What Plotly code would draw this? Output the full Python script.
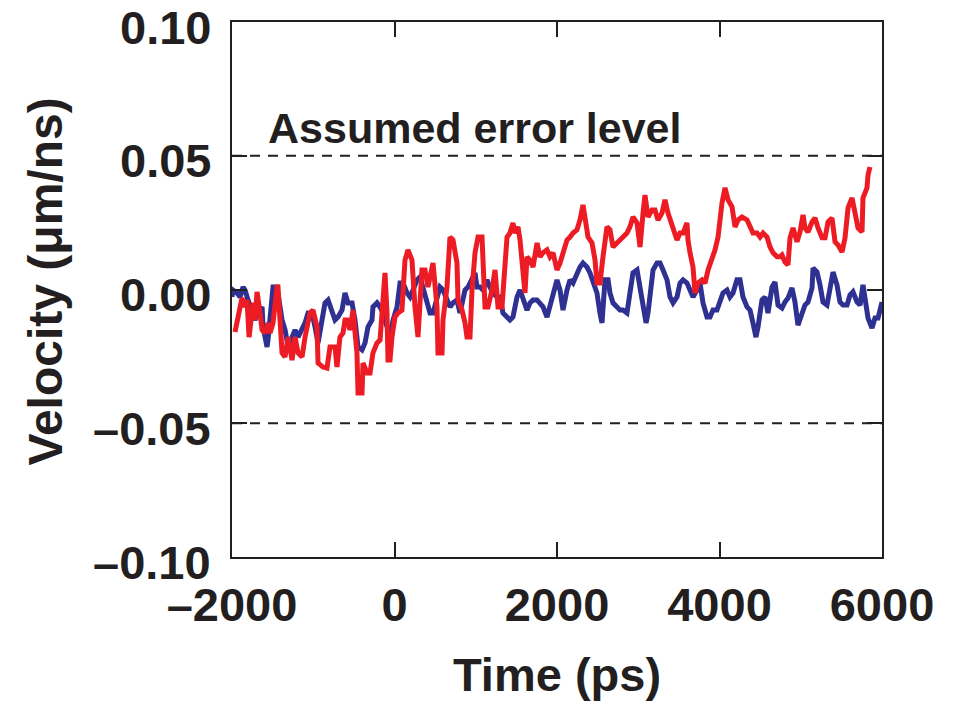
import plotly.graph_objects as go

# ---- data (time in ps, velocity in µm/ns) ----
red_t = [-1963, -1877, -1840, -1815, -1790, -1741, -1717, -1692, -1655, -1630, -1593, -1557, -1532, -1495,
         -1446, -1434, -1409, -1384, -1347, -1310, -1261, -1224, -1187, -1138, -1101, -1040, -1003, -954,
         -941, -880, -831, -794, -732, -708, -671, -634, -609, -585, -548, -511, -462, -449, -400, -388,
         -338, -301, -265, -215, -178, -142, -117, -92, -80, -55, -31, 6, 43, 92, 129, 166, 215, 252, 289,
         338, 375, 412, 474, 523, 535, 585, 597, 646, 683, 720, 769, 782, 831, 868, 892, 929, 954, 991,
         1028, 1077, 1089, 1114, 1151, 1200, 1237, 1261, 1274, 1323, 1360, 1385, 1421, 1458, 1483, 1520,
         1545, 1581, 1606, 1631, 1668, 1705, 1754, 1791, 1828, 1877, 1914, 1951, 2000, 2037, 2074, 2123,
         2160, 2197, 2246, 2283, 2320, 2345, 2382, 2431, 2468, 2492, 2529, 2566, 2615, 2652, 2689, 2738,
         2775, 2812, 2861, 2898, 2935, 2985, 3022, 3059, 3083, 3120, 3169, 3206, 3243, 3292, 3329, 3366,
         3416, 3428, 3477, 3514, 3551, 3600, 3612, 3637, 3674, 3699, 3735, 3785, 3822, 3859, 3908, 3945,
         3982, 4006, 4031, 4068, 4105, 4154, 4191, 4228, 4277, 4339, 4376, 4412, 4462, 4499, 4536, 4585,
         4622, 4659, 4708, 4745, 4769, 4806, 4843, 4868, 4905, 4954, 4991, 5028, 5052, 5089, 5139, 5176,
         5213, 5262, 5299, 5336, 5385, 5422, 5459, 5508, 5545, 5582, 5631, 5668, 5705, 5754, 5766, 5815,
         5828, 5852]
red_v = [-0.0159, -0.0032, -0.0065, -0.0039, -0.0178, -0.0050, -0.0114, -0.0009, -0.0088, -0.0151, -0.0163,
         -0.0125, -0.0163, -0.0125, 0.0009, 0.0009, -0.0114, -0.0237, -0.0252, -0.0178, -0.0264, -0.0178,
         -0.0237, -0.0252, -0.0178, -0.0088, -0.0077, -0.0140, -0.0275, -0.0290, -0.0294, -0.0215, -0.0215,
         -0.0290, -0.0178, -0.0163, -0.0114, -0.0114, -0.0151, -0.0077, -0.0237, -0.0387, -0.0387, -0.0275,
         -0.0312, -0.0312, -0.0237, -0.0200, -0.0189, 0.0009, 0.0062, -0.0088, -0.0264, -0.0264, -0.0178,
         -0.0103, -0.0088, -0.0077, 0.0110, 0.0148, 0.0110, -0.0065, -0.0178, 0.0073, 0.0073, 0.0009, 0.0099,
         -0.0065, -0.0237, -0.0237, -0.0114, 0.0009, 0.0196, 0.0185, 0.0099, -0.0039, -0.0077, -0.0125,
         -0.0178, -0.0178, -0.0002, 0.0137, 0.0196, 0.0196, 0.0062, -0.0065, -0.0065, -0.0002, 0.0073,
         -0.0002, -0.0065, -0.0065, 0.0062, 0.0196, 0.0211, 0.0249, 0.0211, 0.0234, 0.0185, 0.0047, -0.0013,
         0.0122, 0.0110, 0.0084, 0.0174, 0.0122, 0.0137, 0.0148, 0.0122, 0.0137, 0.0073, 0.0099, 0.0137,
         0.0185, 0.0196, 0.0211, 0.0223, 0.0260, 0.0316, 0.0260, 0.0196, 0.0174, 0.0110, 0.0024, 0.0024,
         0.0122, 0.0234, 0.0223, 0.0159, 0.0174, 0.0185, 0.0196, 0.0211, 0.0234, 0.0271, 0.0249, 0.0159,
         0.0286, 0.0353, 0.0271, 0.0297, 0.0297, 0.0260, 0.0286, 0.0335, 0.0286, 0.0234, 0.0223, 0.0185,
         0.0211, 0.0211, 0.0249, 0.0185, 0.0137, 0.0084, -0.0013, 0.0024, 0.0036, 0.0024, 0.0073, 0.0110,
         0.0148, 0.0196, 0.0271, 0.0324, 0.0380, 0.0335, 0.0309, 0.0234, 0.0260, 0.0271, 0.0260, 0.0234,
         0.0211, 0.0211, 0.0196, 0.0211, 0.0196, 0.0159, 0.0137, 0.0122, 0.0122, 0.0129, 0.0103, 0.0092,
         0.0193, 0.0230, 0.0178, 0.0215, 0.0279, 0.0230, 0.0215, 0.0252, 0.0267, 0.0230, 0.0193, 0.0193,
         0.0252, 0.0267, 0.0178, 0.0166, 0.0140, 0.0193, 0.0305, 0.0342, 0.0279, 0.0230, 0.0215, 0.0342,
         0.0380, 0.0428, 0.0458]

blue_t = [-2000, -1988, -1938, -1901, -1864, -1840, -1803, -1754, -1717, -1680, -1630, -1618, -1569, -1557,
          -1532, -1507, -1495, -1446, -1409, -1384, -1347, -1310, -1261, -1224, -1187, -1138, -1101, -1064,
          -1015, -978, -941, -892, -855, -818, -769, -732, -695, -646, -609, -572, -523, -486, -449, -400,
          -363, -326, -277, -265, -215, -178, -142, -92, -55, -18, 31, 68, 105, 154, 191, 228, 277, 314,
          351, 400, 437, 474, 523, 560, 597, 646, 683, 720, 769, 806, 868, 905, 954, 991, 1015, 1052, 1089,
          1138, 1175, 1212, 1261, 1298, 1335, 1385, 1421, 1458, 1508, 1545, 1581, 1631, 1668, 1705, 1754,
          1791, 1828, 1877, 1914, 1951, 2000, 2037, 2074, 2123, 2160, 2197, 2246, 2283, 2320, 2369, 2406,
          2443, 2492, 2529, 2554, 2591, 2628, 2652, 2689, 2738, 2775, 2812, 2861, 2898, 2935, 2985, 3022,
          3059, 3096, 3120, 3145, 3182, 3231, 3268, 3305, 3354, 3391, 3428, 3477, 3514, 3551, 3600, 3637,
          3674, 3723, 3760, 3797, 3846, 3883, 3920, 3969, 4006, 4043, 4092, 4129, 4166, 4215, 4252, 4289,
          4339, 4376, 4412, 4449, 4474, 4523, 4560, 4597, 4646, 4683, 4720, 4769, 4806, 4843, 4892, 4929,
          4966, 5015, 5052, 5089, 5139, 5151, 5200, 5237, 5274, 5323, 5360, 5397, 5446, 5483, 5520, 5570,
          5606, 5643, 5693, 5730, 5766, 5791, 5828, 5877, 5914, 5951, 6000]
blue_v = [-0.0028, -0.0002, -0.0013, -0.0028, 0.0009, -0.0002, -0.0039, -0.0088, -0.0114, -0.0088, -0.0065,
          -0.0140, -0.0215, -0.0189, -0.0114, -0.0050, 0.0009, 0.0009, -0.0065, -0.0114, -0.0151, -0.0215,
          -0.0178, -0.0151, -0.0178, -0.0151, -0.0125, -0.0088, -0.0088, -0.0140, -0.0200, -0.0114, -0.0050,
          -0.0039, -0.0077, -0.0114, -0.0103, -0.0077, -0.0013, -0.0050, -0.0050, -0.0114, -0.0215, -0.0226,
          -0.0200, -0.0140, -0.0114, -0.0065, -0.0050, -0.0065, -0.0088, -0.0140, -0.0178, -0.0114, -0.0065,
          0.0024, 0.0024, -0.0013, -0.0028, -0.0002, 0.0036, 0.0047, 0.0009, -0.0039, -0.0088, -0.0088,
          -0.0028, 0.0009, -0.0002, -0.0039, -0.0065, -0.0050, -0.0039, -0.0088, -0.0002, 0.0009, 0.0036,
          0.0062, 0.0009, 0.0009, -0.0002, 0.0036, 0.0009, -0.0013, -0.0028, -0.0028, -0.0088, -0.0103,
          -0.0114, -0.0103, -0.0028, -0.0002, -0.0039, -0.0077, -0.0050, -0.0039, -0.0039, -0.0050, -0.0065,
          -0.0103, -0.0065, -0.0013, 0.0036, -0.0002, -0.0077, -0.0002, 0.0036, 0.0024, 0.0062, 0.0084,
          0.0099, 0.0084, 0.0062, 0.0024, -0.0013, -0.0088, -0.0125, 0.0036, 0.0036, -0.0013, -0.0050,
          -0.0065, -0.0077, -0.0077, -0.0088, -0.0013, 0.0062, 0.0073, -0.0002, -0.0077, -0.0125, -0.0088,
          -0.0002, 0.0073, 0.0099, 0.0099, 0.0073, 0.0036, -0.0028, -0.0050, -0.0028, 0.0024, 0.0036, 0.0024,
          -0.0002, -0.0028, -0.0002, 0.0024, -0.0050, -0.0103, -0.0103, -0.0077, -0.0077, -0.0039, -0.0013,
          -0.0002, -0.0028, -0.0013, 0.0036, 0.0036, -0.0028, -0.0065, -0.0077, -0.0125, -0.0178, -0.0140,
          -0.0039, -0.0028, -0.0088, 0.0009, 0.0028, -0.0058, -0.0069, -0.0047, -0.0032, 0.0006, -0.0047,
          -0.0133, -0.0095, -0.0058, -0.0047, 0.0006, 0.0080, 0.0065, 0.0017, -0.0047, -0.0058, 0.0006,
          0.0065, 0.0017, -0.0047, -0.0058, -0.0058, -0.0021, -0.0009, -0.0047, -0.0058, 0.0017, -0.0047,
          -0.0107, -0.0144, -0.0107, -0.0107, -0.0047]

error_level = [0.05, -0.05]

x_ticks = [-2000, 0, 2000, 4000, 6000]
x_ticktext = ["\u20132000", "0", "2000", "4000", "6000"]
y_ticks = [0.10, 0.05, 0.0, -0.05, -0.10]
y_ticktext = ["0.10", "0.05", "0.00", "\u20130.05", "\u20130.10"]

INK = "#231f20"
FONT = "Liberation Sans, Arial, Helvetica, sans-serif"

fig = go.Figure()
fig.add_trace(go.Scatter(x=blue_t, y=blue_v, mode="lines",
                         line=dict(color="#2e3192", width=5), showlegend=False))
fig.add_trace(go.Scatter(x=red_t, y=red_v, mode="lines",
                         line=dict(color="#ed1c24", width=5), showlegend=False))

for lvl in error_level:
    fig.add_shape(type="line", xref="paper", x0=0, x1=1, yref="y", y0=lvl, y1=lvl,
                  line=dict(color=INK, width=2, dash="10px,8px"), layer="below")

fig.add_annotation(x=-1580, y=0.0605, xref="x", yref="y", text="Assumed error level",
                   showarrow=False, xanchor="left", yanchor="middle",
                   font=dict(family=FONT, size=43, color=INK, weight="bold"))

# y tick labels drawn as text at the tick values (slightly below each tick, as in the reference)
for val, lab in zip(y_ticks, y_ticktext):
    fig.add_annotation(x=0, xref="paper", y=val, yref="y", text=lab, showarrow=False,
                       xanchor="right", yanchor="middle", xshift=-19, yshift=-5,
                       font=dict(family=FONT, size=47, color=INK, weight="bold"))

# y axis title
fig.add_annotation(x=0, xref="paper", y=0.003, yref="y", text="Velocity (\u03bcm/ns)",
                   showarrow=False, textangle=-90, xanchor="center", yanchor="middle",
                   xshift=-187, font=dict(family=FONT, size=48, color=INK, weight="bold"))

axis_common = dict(showgrid=False, zeroline=False, showline=True, linecolor=INK, linewidth=2,
                   mirror="allticks", ticks="inside", ticklen=15, tickwidth=2, tickcolor=INK,
                   automargin=False)

fig.update_xaxes(range=[-2000, 6000], tickvals=x_ticks, ticktext=x_ticktext,
                 tickfont=dict(family=FONT, size=47, color=INK, weight="bold"),
                 title=dict(text="Time (ps)", font=dict(family=FONT, size=47, color=INK, weight="bold"),
                            standoff=31),
                 ticklabelstandoff=6, **axis_common)
fig.update_yaxes(range=[-0.10, 0.10], tickvals=y_ticks, showticklabels=False, **axis_common)

fig.update_layout(width=955, height=701, margin=dict(l=232, r=73, t=22, b=144),
                  paper_bgcolor="white", plot_bgcolor="white")

fig.write_html("out.html")
